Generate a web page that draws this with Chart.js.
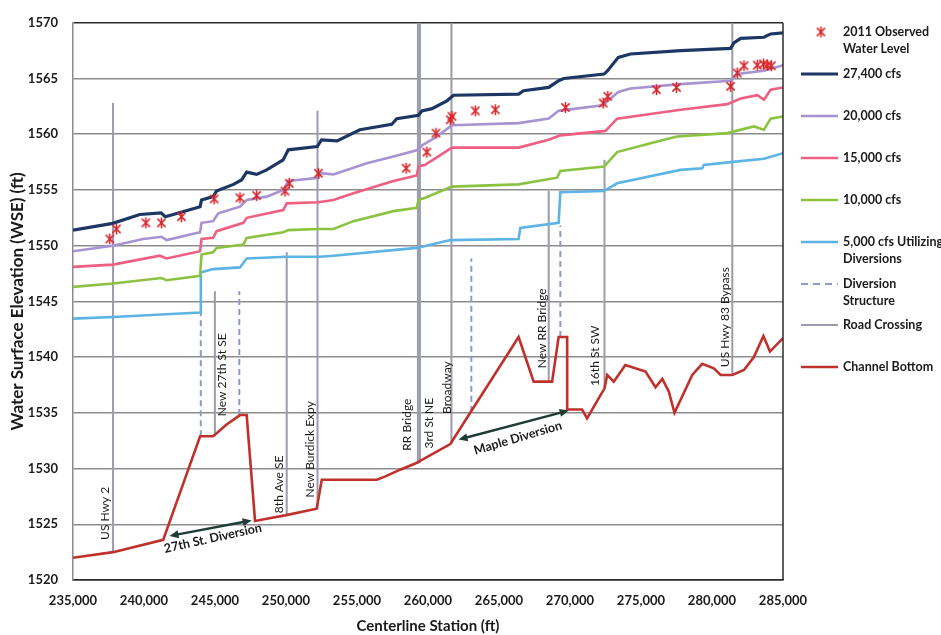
<!DOCTYPE html>
<html>
<head>
<meta charset="utf-8">
<title>Water Surface Profiles</title>
<script src="https://cdn.jsdelivr.net/npm/chart.js@4/dist/chart.umd.min.js"></script>
<style>
  html, body { margin: 0; padding: 0; background: #ffffff; }
  #wrap { width: 941px; height: 635px; }
</style>
</head>
<body>
<div id="wrap"><canvas id="profile" width="941" height="635"></canvas></div>
<script>
// ---- Data: [centerline station (ft), elevation (ft)] ----
const wse27400 = [[235000,1551.4],[237800,1552.0],[239700,1552.8],[241200,1552.95],[241500,1552.6],[243950,1553.5],[244050,1554.1],[244870,1554.4],[245100,1554.9],[246300,1555.5],[246870,1555.9],[247230,1556.6],[247930,1556.4],[248640,1556.8],[249800,1557.7],[250160,1558.6],[252200,1558.9],[252500,1559.5],[253600,1559.4],[255200,1560.4],[257450,1560.9],[257800,1561.4],[259330,1561.7],[259570,1562.1],[260280,1562.3],[261330,1563.0],[261800,1563.5],[266380,1563.6],[266730,1563.9],[268500,1564.2],[269200,1564.8],[269560,1565.0],[272400,1565.4],[272650,1565.7],[273400,1566.9],[274260,1567.2],[277790,1567.5],[281310,1567.7],[281540,1568.2],[282020,1568.6],[283660,1568.7],[284130,1569.0],[285000,1569.1]];

const wse20000 = [[235000,1549.5],[237800,1550.0],[239940,1550.6],[241230,1550.8],[241590,1550.5],[243950,1551.2],[244050,1552.05],[244870,1552.2],[245230,1552.9],[246760,1553.5],[247230,1554.1],[248640,1554.4],[249810,1555.0],[250160,1555.8],[252280,1556.1],[252400,1556.5],[253340,1556.4],[255690,1557.4],[257570,1558.0],[259330,1558.6],[259570,1559.0],[260390,1559.6],[261690,1560.8],[266380,1561.0],[268500,1561.4],[269200,1562.1],[272300,1562.6],[273400,1563.8],[274260,1564.1],[277790,1564.5],[281310,1564.8],[281780,1565.4],[283660,1565.7],[285000,1566.2]];

const wse15000 = [[235000,1548.1],[237820,1548.3],[241110,1549.1],[241590,1548.85],[243950,1549.5],[244050,1550.6],[244870,1550.7],[245110,1551.3],[247000,1552.05],[247230,1552.5],[249810,1553.2],[250050,1553.8],[252280,1553.9],[253340,1554.1],[254750,1554.7],[257570,1555.8],[259210,1556.3],[259330,1557.1],[259800,1557.25],[261690,1558.8],[266380,1558.8],[268500,1559.5],[269320,1559.9],[272500,1560.3],[273320,1561.4],[277790,1562.2],[281080,1562.7],[282020,1563.2],[283190,1563.5],[283660,1563.1],[284130,1564.0],[285000,1564.2]];

const wse10000 = [[235000,1546.3],[237820,1546.6],[241230,1547.1],[241590,1546.9],[243950,1547.3],[244050,1549.2],[244870,1549.4],[245110,1549.8],[247000,1550.1],[247230,1550.7],[249810,1551.2],[250160,1551.4],[252280,1551.5],[253340,1551.5],[254750,1552.2],[257570,1553.1],[259210,1553.4],[259330,1554.1],[259800,1554.3],[261690,1555.3],[266380,1555.5],[269090,1556.1],[269320,1556.7],[272400,1557.1],[273320,1558.4],[276610,1559.5],[277550,1559.8],[281080,1560.1],[282950,1560.7],[283660,1560.4],[284130,1561.4],[285000,1561.6]];

const wse5000 = [[235000,1543.45],[237820,1543.6],[243950,1544.0],[244000,1547.6],[244870,1547.9],[246760,1548.05],[247230,1548.85],[250050,1549.0],[252400,1549.0],[253340,1549.1],[259210,1549.8],[261570,1550.5],[266380,1550.6],[266500,1551.6],[269200,1552.05],[269320,1554.8],[272380,1554.9],[273320,1555.6],[277790,1556.8],[279310,1556.95],[279430,1557.25],[281310,1557.5],[283660,1557.8],[285000,1558.3]];

const channelBottom = [[235000,1522.0],[237820,1522.5],[241350,1523.6],[243950,1532.9],[244870,1532.9],[245820,1533.95],[246760,1534.8],[247230,1534.8],[247820,1525.3],[248640,1525.5],[249930,1525.8],[252160,1526.4],[252520,1529.0],[256400,1529.0],[257000,1529.3],[258040,1529.9],[259100,1530.45],[261570,1532.2],[266380,1541.8],[267440,1537.8],[268740,1537.8],[269200,1541.8],[269800,1541.8],[269800,1535.3],[270850,1535.3],[271200,1534.5],[272430,1537.2],[272620,1538.4],[273080,1537.8],[273900,1539.3],[275320,1538.7],[276020,1537.3],[276500,1538.05],[276960,1536.9],[277360,1535.0],[278610,1538.4],[279310,1539.4],[280130,1539.0],[280610,1538.4],[281430,1538.4],[282250,1538.85],[282950,1540.0],[283620,1541.9],[284080,1540.5],[285000,1541.7]];

const observed2011 = [[237590,1550.6],[238060,1551.5],[240130,1552.05],[241230,1552.05],[242640,1552.6],[244940,1554.2],[246760,1554.3],[247930,1554.5],[249930,1554.9],[250230,1555.6],[252280,1556.5],[258460,1556.95],[259920,1558.4],[260560,1560.1],[261570,1561.3],[261690,1561.6],[263330,1562.1],[264740,1562.2],[269680,1562.4],[272340,1562.8],[272660,1563.4],[276090,1564.0],[277500,1564.2],[281310,1564.3],[281780,1565.5],[282250,1566.15],[283190,1566.2],[283620,1566.3],[283900,1566.2],[284180,1566.15]];

// Road crossings: name, station, low and high elevation of the marker line
const roadNames    = ['US Hwy 2','New 27th St SE','8th Ave SE','New Burdick Expy','RR Bridge','3rd St NE','Broadway','New RR Bridge','16th St SW','US Hwy 83 Bypass'];
const roadStations = [237820, 244990, 250050, 252220, 259290, 259430, 261650, 268500, 272430, 281430];
const roadBottoms  = [1522.5, 1532.9, 1525.8, 1526.4, 1530.4, 1530.5, 1532.2, 1537.8, 1537.2, 1538.4];
const roadTops     = [1562.8, 1545.9, 1549.4, 1562.1, 1570, 1570, 1570, 1554.9, 1557.7, 1570];
// Where each crossing name sits (station, elevation at the start of the text)
const roadLabelStations = [237240, 245490, 249510, 251690, 258520, 260070, 261340, 268040, 271780, 280950];
const roadLabelElevs    = [1523.6, 1534.7, 1526.0, 1527.4, 1531.6, 1531.8, 1534.9, 1539.0, 1537.4, 1539.1];

// Diversion structures
const divStations = [244000, 246710, 263050, 269320];
const divBottoms  = [1532.9, 1534.8, 1535.1, 1541.8];
const divTops     = [1544.0, 1545.9, 1548.85, 1551.8];

// Diversion reach callouts
const reachNames = ['27th St. Diversion', 'Maple Diversion'];
const reachFrom  = [[241800, 1523.95], [262150, 1532.6]];
const reachTo    = [[247580, 1525.35], [269910, 1535.2]];
const reachText  = [[244850, 1523.75], [266330, 1532.75]];

const yTicks = [1520, 1525, 1530, 1535, 1540, 1545, 1550, 1555, 1560, 1565, 1570];

// ---- Styles ----
const C = {
  q27400: '#1c3764',
  q20000: '#a793d2',
  q15000: '#ee5f82',
  q10000: '#8cc241',
  q5000:  '#5cb4e4',
  channel:'#c0312b',
  road:   '#9a9bad',
  div:    '#8d9bc6',
  star:   '#d8262a',
  arrow:  '#1f3c36',
  text:   '#1a1a1a'
};
const FONT = 'Lato, "Open Sans", "DejaVu Sans", sans-serif';

const toXY = arr => arr.map(([x, y]) => ({ x, y }));

// Asterisk marker: vertical stroke crossed by an X
function makeAsterisk(size, color) {
  const c = document.createElement('canvas');
  c.width = size; c.height = size;
  const g = c.getContext('2d');
  g.strokeStyle = color; g.lineWidth = 1.5; g.lineCap = 'butt';
  const m = size / 2, r = size / 2 - 1;
  g.beginPath();
  g.moveTo(m, m - r); g.lineTo(m, m + r);
  g.moveTo(m - r * 0.75, m - r * 0.75); g.lineTo(m + r * 0.75, m + r * 0.75);
  g.moveTo(m - r * 0.75, m + r * 0.75); g.lineTo(m + r * 0.75, m - r * 0.75);
  g.stroke();
  return c;
}
const asterisk = makeAsterisk(13, C.star);

const lineDs = (label, arr, color, width, order) => ({
  label, data: toXY(arr), borderColor: color, backgroundColor: color,
  borderWidth: width, pointRadius: 0, tension: 0, fill: false, order
});

const datasets = [
  { label: '2011 Observed Water Level', data: toXY(observed2011), showLine: false,
    pointStyle: asterisk, pointRadius: 6, borderColor: C.star, backgroundColor: C.star, order: 0 },
  lineDs('27,400 cfs', wse27400, C.q27400, 3.2, 1),
  lineDs('20,000 cfs', wse20000, C.q20000, 2.6, 2),
  lineDs('15,000 cfs', wse15000, C.q15000, 2.6, 3),
  lineDs('10,000 cfs', wse10000, C.q10000, 2.6, 4),
  lineDs('5,000 cfs Utilizing Diversions', wse5000, C.q5000, 2.6, 5),
  lineDs('Channel Bottom', channelBottom, C.channel, 2.6, 6)
];
roadStations.forEach((s, i) => {
  datasets.push({ label: 'Road Crossing', data: [{ x: s, y: roadBottoms[i] }, { x: s, y: roadTops[i] }],
    borderColor: C.road, borderWidth: 2, pointRadius: 0, order: 8 });
});
divStations.forEach((s, i) => {
  datasets.push({ label: 'Diversion Structure', data: [{ x: s, y: divBottoms[i] }, { x: s, y: divTops[i] }],
    borderColor: C.div, borderWidth: 2, borderDash: [6, 4], pointRadius: 0, order: 9 });
});

// Frame, labels, callouts and the side legend
const annotate = {
  id: 'annotate',
  afterDatasetsDraw(chart) {
    const { ctx, chartArea: a, scales: { x, y } } = chart;
    ctx.save();
    // plot frame (right edge)
    ctx.strokeStyle = '#2b2b2b'; ctx.lineWidth = 1.5;
    ctx.beginPath(); ctx.moveTo(a.right, a.top); ctx.lineTo(a.right, a.bottom); ctx.stroke();

    // crossing names, reading upward
    ctx.fillStyle = C.text;
    ctx.font = '12px ' + FONT;
    ctx.textAlign = 'left'; ctx.textBaseline = 'middle';
    roadNames.forEach((n, i) => {
      ctx.save();
      ctx.translate(x.getPixelForValue(roadLabelStations[i]), y.getPixelForValue(roadLabelElevs[i]));
      ctx.rotate(-Math.PI / 2);
      ctx.fillText(n, 0, 0);
      ctx.restore();
    });

    // double-headed arrows for diversion reaches
    reachNames.forEach((n, i) => {
      const x1 = x.getPixelForValue(reachFrom[i][0]), y1 = y.getPixelForValue(reachFrom[i][1]);
      const x2 = x.getPixelForValue(reachTo[i][0]),   y2 = y.getPixelForValue(reachTo[i][1]);
      const ang = Math.atan2(y2 - y1, x2 - x1);
      const hl = 9, hw = 4;
      ctx.strokeStyle = C.arrow; ctx.fillStyle = C.arrow; ctx.lineWidth = 2.4;
      ctx.beginPath();
      ctx.moveTo(x1 + Math.cos(ang) * hl * 0.8, y1 + Math.sin(ang) * hl * 0.8);
      ctx.lineTo(x2 - Math.cos(ang) * hl * 0.8, y2 - Math.sin(ang) * hl * 0.8);
      ctx.stroke();
      const head = (px, py, dir) => {
        ctx.beginPath();
        ctx.moveTo(px, py);
        ctx.lineTo(px - Math.cos(dir) * hl - Math.sin(dir) * hw, py - Math.sin(dir) * hl + Math.cos(dir) * hw);
        ctx.lineTo(px - Math.cos(dir) * hl + Math.sin(dir) * hw, py - Math.sin(dir) * hl - Math.cos(dir) * hw);
        ctx.closePath(); ctx.fill();
      };
      head(x2, y2, ang);
      head(x1, y1, ang + Math.PI);

      ctx.save();
      ctx.translate(x.getPixelForValue(reachText[i][0]), y.getPixelForValue(reachText[i][1]));
      ctx.rotate(ang - 0.03);
      ctx.fillStyle = C.text;
      ctx.font = 'bold 12.5px ' + FONT;
      ctx.textAlign = 'center'; ctx.textBaseline = 'middle';
      ctx.fillText(n, 0, 0);
      ctx.restore();
    });
    ctx.restore();
  },
  afterDraw(chart) {
    const { ctx } = chart;
    const lx0 = 801, lx1 = 838, tx = 843;
    const items = [
      { kind: 'star', y: 32, text: ['2011 Observed', 'Water Level'] },
      { kind: 'line', color: C.q27400, w: 3.2, y: 74, text: ['27,400 cfs'] },
      { kind: 'line', color: C.q20000, w: 2.6, y: 116, text: ['20,000 cfs'] },
      { kind: 'line', color: C.q15000, w: 2.6, y: 158, text: ['15,000 cfs'] },
      { kind: 'line', color: C.q10000, w: 2.6, y: 200, text: ['10,000 cfs'] },
      { kind: 'line', color: C.q5000,  w: 2.6, y: 242, text: ['5,000 cfs Utilizing', 'Diversions'] },
      { kind: 'dash', color: C.div,    w: 2,   y: 284, text: ['Diversion', 'Structure'] },
      { kind: 'line', color: C.road,   w: 2,   y: 325, text: ['Road Crossing'] },
      { kind: 'line', color: C.channel,w: 2.6, y: 367, text: ['Channel Bottom'] }
    ];
    ctx.save();
    items.forEach(it => {
      if (it.kind === 'star') {
        ctx.drawImage(asterisk, 821 - 6.5, it.y - 6.5);
      } else {
        ctx.strokeStyle = it.color; ctx.lineWidth = it.w;
        ctx.setLineDash(it.kind === 'dash' ? [7, 5] : []);
        ctx.beginPath(); ctx.moveTo(lx0, it.y); ctx.lineTo(lx1, it.y); ctx.stroke();
        ctx.setLineDash([]);
      }
      ctx.fillStyle = C.text;
      ctx.font = 'bold 12.5px ' + FONT;
      ctx.textAlign = 'left'; ctx.textBaseline = 'middle';
      it.text.forEach((t, k) => ctx.fillText(t, tx, it.y + k * 17));
    });
    ctx.restore();
  }
};

new Chart(document.getElementById('profile'), {
  type: 'line',
  data: { datasets },
  options: {
    responsive: false,
    animation: false,
    devicePixelRatio: 1,
    layout: { padding: { top: 19, right: 158, bottom: 0, left: 0 } },
    plugins: { legend: { display: false }, tooltip: { enabled: false } },
    scales: {
      x: {
        type: 'linear', min: 235000, max: 285000,
        afterFit: s => { s.height = 55; },
        grid: { display: false, drawTicks: false },
        border: { display: true, color: '#2b2b2b', width: 1.5 },
        ticks: {
          stepSize: 5000, autoSkip: false, maxRotation: 0, padding: 13,
          color: C.text, font: { family: FONT, size: 13, weight: 'bold' },
          callback: v => v.toLocaleString('en-US')
        },
        title: { display: true, text: 'Centerline Station (ft)', color: C.text,
          font: { family: FONT, size: 15, weight: 'bold' }, padding: { top: 0, bottom: 0 } }
      },
      y: {
        type: 'linear', min: 1520, max: 1570,
        afterFit: s => { s.width = 73; },
        afterBuildTicks: s => { s.ticks = yTicks.map(v => ({ value: v })); },
        grid: {
          drawTicks: false,
          color: c => (c.tick && (c.tick.value === 1570 || c.tick.value === 1520)) ? '#2b2b2b' : '#8c8c8c',
          lineWidth: 1.5
        },
        border: { display: true, color: '#8c8c8c', width: 1.5 },
        ticks: { padding: 15, color: C.text, font: { family: FONT, size: 13, weight: 'bold' },
          callback: v => String(v) },
        title: { display: true, text: 'Water Surface Elevation (WSE) (ft)', color: C.text,
          font: { family: FONT, size: 17, weight: 'bold' }, padding: { top: 7, bottom: 0 } }
      }
    }
  },
  plugins: [annotate]
});
</script>
</body>
</html>
